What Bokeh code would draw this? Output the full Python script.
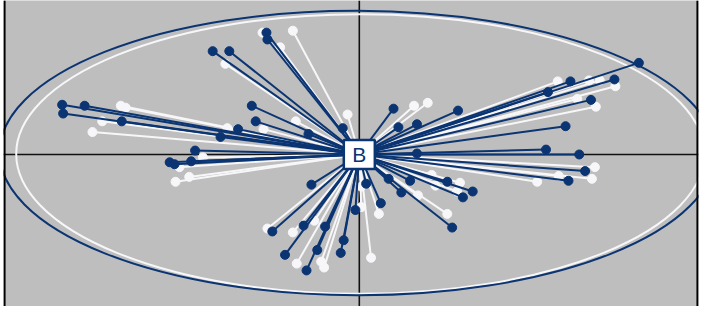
from bokeh.plotting import figure
from bokeh.models import Span, ColumnDataSource, Range1d
from bokeh.core.properties import value
from bokeh.embed import file_html
from bokeh.resources import INLINE

NAVY = "#0a3472"
WHITE = "#f7f7fa"
GREY = "#bebebe"

# navy group (x, y)
navy_x = [2.86, 2.16, 2.61, 1.93, 2.37, 2.11, 1.91, 2.25, 2.31, 2.14, 1.16, 1.06, 0.95,
          0.90, 0.52, 0.43, 0.30, 0.22, 0.07, -0.04, -0.16, -0.19, -0.43, -0.54, -0.76,
          -0.89, -0.57, -0.35, -0.49, 0.59, 0.59, 0.40, 0.35, 1.01, -0.17, -0.52, -0.95,
          -0.94, -1.50, -1.33, -1.10, -1.06, -1.24, -1.42, -1.68, -1.94, -1.89, -1.72,
          -3.04, -2.81, -3.03, -2.43]
navy_y = [0.94, 0.75, 0.77, 0.64, 0.56, 0.29, 0.05, 0.00, -0.17, -0.27, -0.38, -0.44, -0.75,
          -0.28, -0.27, -0.39, -0.25, -0.50, -0.30, -0.57, -0.88, -1.01, -0.98, -1.19, -1.03,
          -0.79, -0.73, -0.74, -0.31, 0.01, 0.31, 0.28, 0.47, 0.45, 0.27, 0.21, 1.25,
          1.18, 1.06, 1.06, 0.50, 0.34, 0.26, 0.18, 0.04, -0.08, -0.10, -0.07,
          0.51, 0.50, 0.42, 0.34]

# white group (x, y)
white_x = [2.03, 2.35, 2.46, 2.62, 2.23, 2.42, 2.41, 2.04, 2.38, 1.82, 1.03, 1.00, 0.74,
           0.60, 0.90, 0.78, 0.20, 0.02, 0.02, 0.12, -0.36, -0.39, -0.64, -0.68, -0.94,
           -0.46, -0.12, -0.65, -0.98, -1.35, -1.37, -0.99, -0.81, -0.68, 0.56, 0.70,
           -2.44, -2.39, -2.63, -2.73, -1.60, -1.84, -1.88, -1.74]
white_y = [0.75, 0.76, 0.76, 0.70, 0.57, 0.49, -0.13, -0.22, -0.25, -0.28, -0.29, -0.38, -0.21,
           -0.42, -0.61, -0.32, -0.61, -0.54, -0.33, -1.06, -1.16, -1.10, -1.12, -0.80, -0.76,
           -0.68, 0.41, 0.34, 0.26, 0.27, 0.93, 1.25, 1.10, 1.27, 0.50, 0.53,
           0.50, 0.48, 0.34, 0.23, -0.03, -0.13, -0.28, -0.23]

# ellipses: centre x, centre y, width, height, angle
ell_navy = [-0.02, 0.015, 7.32, 2.92, -0.002]
ell_white = [0.01, 0.005, 7.04, 2.87, 0.0]

# left / right frame edges of the panel
panel_edges = [-3.63, 3.46]

centre_label = "B"
centre = [0.0, 0.0]

p = figure(width=705, height=306, output_backend="svg", toolbar_location=None,
           x_range=Range1d(-3.64, 3.47), y_range=Range1d(-1.56, 1.58),
           min_border_left=3, min_border_right=7, min_border_top=0, min_border_bottom=0)
p.border_fill_color = "white"
p.background_fill_color = GREY
p.outline_line_color = None
p.axis.visible = False
p.grid.visible = False

p.add_layout(Span(location=0, dimension="width", line_color="#111111", line_width=1.6, level="underlay"))
p.add_layout(Span(location=0, dimension="height", line_color="#111111", line_width=1.6, level="underlay"))

p.ellipse(x=[ell_white[0]], y=[ell_white[1]], width=[ell_white[2]], height=[ell_white[3]],
          angle=ell_white[4], fill_color=None, line_color=WHITE, line_width=2)
p.ellipse(x=[ell_navy[0]], y=[ell_navy[1]], width=[ell_navy[2]], height=[ell_navy[3]],
          angle=ell_navy[4], fill_color=None, line_color=NAVY, line_width=2)

ws = ColumnDataSource(dict(x0=[centre[0]] * len(white_x), y0=[centre[1]] * len(white_y),
                           x1=white_x, y1=white_y))
ns = ColumnDataSource(dict(x0=[centre[0]] * len(navy_x), y0=[centre[1]] * len(navy_y),
                           x1=navy_x, y1=navy_y))

p.segment(x0="x0", y0="y0", x1="x1", y1="y1", source=ws, line_color=WHITE, line_width=2)
p.scatter(x="x1", y="y1", source=ws, size=9, fill_color=WHITE, line_color=WHITE)
p.segment(x0="x0", y0="y0", x1="x1", y1="y1", source=ns, line_color=NAVY, line_width=2)
p.scatter(x="x1", y="y1", source=ns, size=9, fill_color=NAVY, line_color=NAVY)

p.rect(x=[centre[0]], y=[centre[1]], width=31, height=29, width_units="screen",
       height_units="screen", fill_color="white", line_color=NAVY, line_width=2.5)
p.text(x=[centre[0]], y=[centre[1]], text=[centre_label], text_align="center",
       text_baseline="middle", text_color=NAVY, text_font=value("Liberation Sans"),
       text_font_size="21px")

for edge in panel_edges:
    p.add_layout(Span(location=edge, dimension="height", line_color="black",
                      line_width=2.2, level="overlay"))

open("out.html", "w").write(file_html(p, INLINE))
